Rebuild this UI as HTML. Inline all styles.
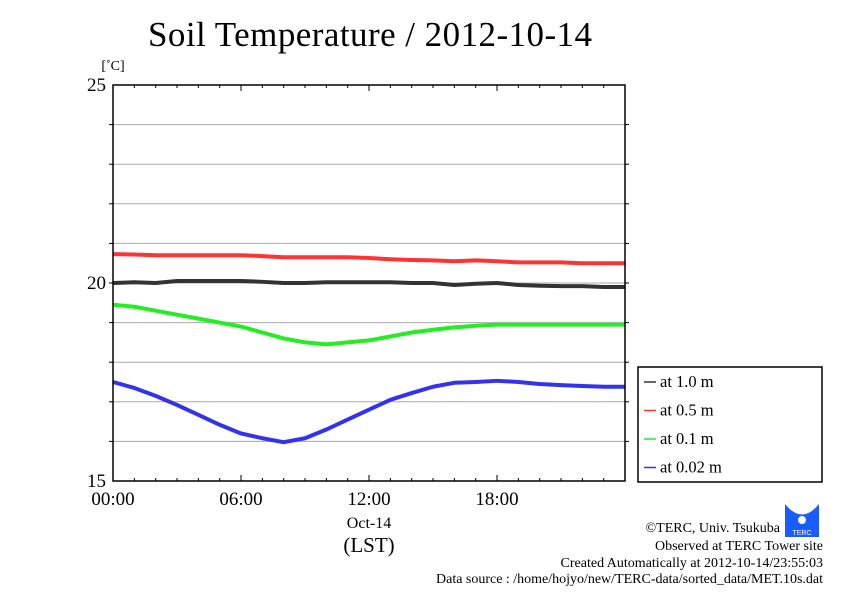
<!DOCTYPE html>
<html><head><meta charset="utf-8"><style>
body{margin:0;background:#fff;width:842px;height:595px;overflow:hidden}
svg text{font-family:"Liberation Serif",serif;fill:#000}
</style></head><body>
<svg id="chart" width="842" height="595">
<text x="370" y="46" font-size="35" text-anchor="middle" textLength="444">Soil Temperature / 2012-10-14</text>
<text x="113" y="70" font-size="14" text-anchor="middle">[˚C]</text>
<g id="grid"></g><g id="series"></g><g id="axes"></g>
<text x="369" y="528" font-size="16" text-anchor="middle">Oct-14</text>
<text x="369" y="552" font-size="21" text-anchor="middle">(LST)</text>
<g>
<rect x="638" y="367" width="184" height="115" fill="#fff" stroke="#000" stroke-width="1.5"/>
<g id="legend-items"></g>
</g>
<g>
<rect x="785" y="504" width="34" height="33" fill="#1a5cff"/>
<path d="M785 504 Q802 525 819 504" fill="#fff"/>
<circle cx="802" cy="520" r="4" fill="#fff"/>
<text x="802" y="535" font-size="7" text-anchor="middle" style="fill:#fff;font-family:'Liberation Sans',sans-serif">TERC</text>
</g>
<g font-size="14" text-anchor="end">
<text x="780" y="532">©TERC, Univ. Tsukuba</text>
<text x="823" y="550">Observed at TERC Tower site</text>
<text x="823" y="567">Created Automatically at 2012-10-14/23:55:03</text>
<text x="823" y="583" textLength="387">Data source : /home/hojyo/new/TERC-data/sorted_data/MET.10s.dat</text>
</g>
</svg>
<script>
const hours=[0,1,2,3,4,5,6,7,8,9,10,11,12,13,14,15,16,17,18,19,20,21,22,23,24];
const seriesNames=["at 1.0 m","at 0.5 m","at 0.1 m","at 0.02 m"];
const seriesColors=["#333","#ff3333","#22ee22","#3333ee"];
const t100=[20.0,20.02,20.0,20.05,20.05,20.05,20.05,20.03,20.0,20.0,20.02,20.02,20.02,20.02,20.0,20.0,19.95,19.98,20.0,19.95,19.93,19.92,19.92,19.9,19.9];
const t50=[20.73,20.72,20.7,20.7,20.7,20.7,20.7,20.68,20.65,20.65,20.65,20.65,20.63,20.6,20.58,20.57,20.55,20.57,20.55,20.52,20.52,20.52,20.5,20.5,20.5];
const t10=[19.45,19.4,19.3,19.2,19.1,19.0,18.9,18.75,18.6,18.5,18.45,18.5,18.55,18.65,18.75,18.82,18.88,18.92,18.95,18.95,18.95,18.95,18.95,18.95,18.95];
const t2=[17.5,17.35,17.15,16.92,16.67,16.42,16.2,16.08,15.98,16.08,16.3,16.55,16.8,17.05,17.22,17.38,17.48,17.5,17.53,17.5,17.45,17.42,17.4,17.38,17.38];
const allSeries=[t100,t50,t10,t2];
const yTicks=[15,20,25];
const xTickLabels=["00:00","06:00","12:00","18:00"];
const L=113,R=625,T=85,B=481,ymin=15,ymax=25;
const xs=h=>L+(R-L)*h/24, ys=v=>B-(B-T)*(v-ymin)/(ymax-ymin);
const NS="http://www.w3.org/2000/svg";
function mk(tag,attrs,parent){const e=document.createElementNS(NS,tag);for(const k in attrs)e.setAttribute(k,attrs[k]);parent.appendChild(e);return e;}
const grid=document.getElementById('grid'),axes=document.getElementById('axes'),ser=document.getElementById('series');
for(let v=ymin+1;v<ymax;v++){const g=mk('line',{x1:L,x2:R,y1:ys(v),y2:ys(v),stroke:'#aaa','stroke-width':1},grid);

}
const frame=mk('rect',{x:L,y:T,width:R-L,height:B-T,fill:'none',stroke:'#000','stroke-width':1.5},axes);


for(let h=1;h<24;h++){const len=h%6==0?6:3;
mk('line',{x1:xs(h),x2:xs(h),y1:T,y2:T+len,stroke:'#000'},axes);mk('line',{x1:xs(h),x2:xs(h),y1:B,y2:B-len,stroke:'#000'},axes);}
for(let v=ymin+1;v<ymax;v++){mk('line',{x1:L,x2:L-4,y1:ys(v),y2:ys(v),stroke:'#000'},axes);mk('line',{x1:R,x2:R+4,y1:ys(v),y2:ys(v),stroke:'#000'},axes);}
yTicks.forEach(v=>{const t=mk('text',{x:L-7,y:ys(v)+6,'font-size':19,'text-anchor':'end'},axes);t.textContent=v;

});
xTickLabels.forEach((s,i)=>{const t=mk('text',{x:xs(i*6),y:505,'font-size':19,'text-anchor':'middle'},axes);t.textContent=s;

});
allSeries.forEach((d,i)=>{const p=mk('polyline',{points:d.map((v,j)=>xs(hours[j])+','+ys(v)).join(' '),fill:'none',stroke:seriesColors[i],'stroke-width':4,'stroke-linejoin':'round'},ser);

});
const li=document.getElementById('legend-items');
seriesNames.forEach((n,i)=>{const y=382+i*28.5;
mk('line',{x1:644,x2:656,y1:y,y2:y,stroke:seriesColors[i],'stroke-width':1.5},li);
const t=mk('text',{x:660,y:y+5,'font-size':16.5},li);t.textContent=n;

});
</script>
</body></html>
